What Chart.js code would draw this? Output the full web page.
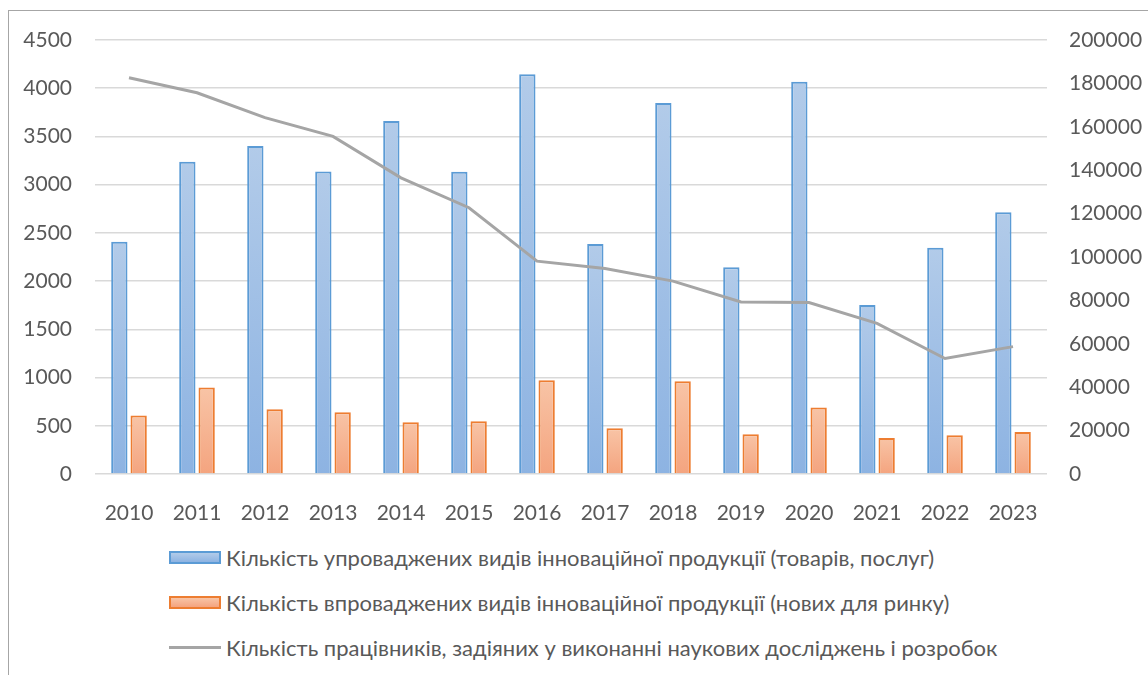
<!DOCTYPE html>
<html>
<head>
<meta charset="utf-8">
<script src="https://cdn.jsdelivr.net/npm/chart.js@4"></script>
<style>
    html, body { margin: 0; padding: 0; background: #fff; overflow: hidden; }
    body { width: 1148px; height: 675px; position: relative; font-family: Lato, sans-serif; }
    #frame { position: absolute; left: 8px; top: 10px; width: 1300px; height: 800px; border: 1px solid #a6a6a6; }
    #wrap { position: absolute; left: 0; top: 0; width: 1148px; height: 530px; }
    #legend { position: absolute; left: 169px; top: 535px; color: #595959; font-size: 22px; }
    .row { display: flex; align-items: center; height: 45px; white-space: nowrap; }
    .box { width: 48px; height: 9px; margin-right: 5px; border: 2px solid; }
    .line { width: 52px; height: 3px; margin-right: 5px; }
</style>
</head>
<body>
<div id="frame"></div>
<div id="wrap"><canvas id="myChart"></canvas></div>
<div id="legend"></div>
<script>
const years = ['2010', '2011', '2012', '2013', '2014', '2015', '2016', '2017', '2018', '2019', '2020', '2021', '2022', '2023'];

const name1 = 'Кількість упроваджених видів інноваційної продукції (товарів, послуг)';
const name2 = 'Кількість впроваджених видів інноваційної продукції (нових для ринку)';
const name3 = 'Кількість працівників, задіяних у виконанні наукових досліджень і розробок';

const products = [2407, 3237, 3400, 3137, 3659, 3133, 4144, 2386, 3846, 2145, 4067, 1753, 2345, 2715];
const newProducts = [606, 896, 671, 640, 536, 547, 972, 474, 962, 412, 689, 374, 402, 436];
const workers = [182600, 175700, 164200, 155600, 136500, 122700, 98100, 94700, 88900, 79300, 79000, 69400, 53200, 58700];

const color1 = '#5b9bd5';
const color2 = '#ed7d31';
const color3 = '#a5a5a5';
const textColor = '#595959';

// per-bar vertical gradient, like the office fill
function barFill(top, bottom) {
    return function (ctx) {
        const chart = ctx.chart;
        if (!chart.chartArea || ctx.raw === undefined) return bottom;
        const y = chart.scales.y;
        const y0 = y.getPixelForValue(ctx.raw);
        const y1 = y.getPixelForValue(0);
        if (!isFinite(y0) || !isFinite(y1) || y0 === y1) return bottom;
        const g = chart.ctx.createLinearGradient(0, y0, 0, y1);
        g.addColorStop(0, top);
        g.addColorStop(1, bottom);
        return g;
    };
}

const data = {
    labels: years,
    datasets: [{
        label: name1,
        data: products,
        backgroundColor: barFill('#b2cbe9', '#8db3e2'),
        borderColor: color1,
        borderWidth: 2,
        categoryPercentage: 0.568,
        barPercentage: 0.845,
        yAxisID: 'y',
        order: 1
    }, {
        label: name2,
        data: newProducts,
        backgroundColor: barFill('#f8c4a6', '#f4a47f'),
        borderColor: color2,
        borderWidth: 2,
        categoryPercentage: 0.568,
        barPercentage: 0.845,
        yAxisID: 'y',
        order: 1
    }, {
        type: 'line',
        label: name3,
        data: workers,
        borderColor: color3,
        borderWidth: 3,
        pointRadius: 0,
        tension: 0,
        yAxisID: 'y1',
        order: 0
    }]
};

const tickFont = { family: 'Lato', size: 21 };
const plain = function (v) { return String(v); };

const config = {
    type: 'bar',
    data: data,
    options: {
        responsive: true,
        maintainAspectRatio: false,
        animation: false,
        layout: { padding: { top: 40, left: 0, right: 0, bottom: 0 } },
        plugins: {
            legend: { display: false },
            tooltip: { enabled: false }
        },
        scales: {
            x: {
                grid: { display: false },
                border: { display: false },
                ticks: { color: textColor, font: tickFont, padding: 19, maxRotation: 0 },
                afterFit: function (scale) { scale.height = 56; }
            },
            y: {
                position: 'left',
                min: 0,
                max: 4500,
                grid: { color: '#d9d9d9', lineWidth: 1.5, drawTicks: false },
                border: { display: false },
                ticks: { stepSize: 500, color: textColor, font: tickFont, padding: 23, callback: plain },
                afterFit: function (scale) { scale.width = 95; }
            },
            y1: {
                position: 'right',
                min: 0,
                max: 200000,
                grid: { drawOnChartArea: false, drawTicks: false },
                border: { display: false },
                ticks: { stepSize: 20000, color: textColor, font: tickFont, padding: 22, callback: plain },
                afterFit: function (scale) { scale.width = 101; }
            }
        }
    }
};

const myChart = new Chart(document.getElementById('myChart'), config);

// legend under the chart, one item per row
const legendFills = [
    'linear-gradient(#b2cbe9, #8db3e2)',
    'linear-gradient(#f8c4a6, #f4a47f)'
];
const legend = document.getElementById('legend');
data.datasets.forEach(function (ds, i) {
    const row = document.createElement('div');
    row.className = 'row';
    const mark = document.createElement('span');
    if (ds.type === 'line') {
        mark.className = 'line';
        mark.style.background = ds.borderColor;
    } else {
        mark.className = 'box';
        mark.style.borderColor = ds.borderColor;
        mark.style.background = legendFills[i];
    }
    const txt = document.createElement('span');
    txt.textContent = ds.label;
    row.appendChild(mark);
    row.appendChild(txt);
    legend.appendChild(row);
});
</script>
</body>
</html>
